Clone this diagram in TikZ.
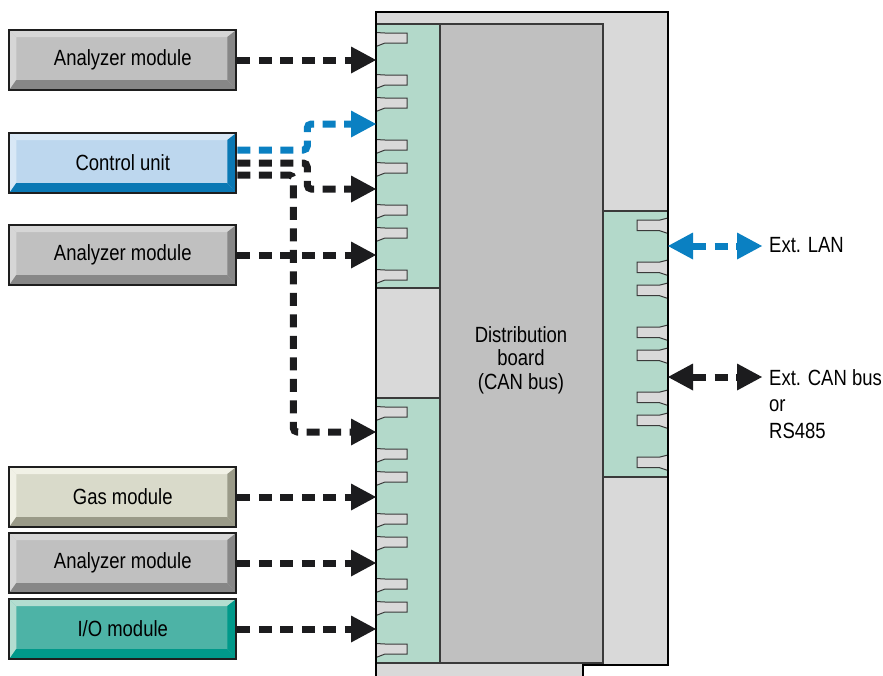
\documentclass[tikz,border=0pt]{standalone}
\usepackage{fontspec}
\setmainfont{Liberation Sans}[FakeStretch=0.84]
\usetikzlibrary{arrows.meta}

% board colours
\definecolor{boardgray}{HTML}{D9D9D9}
\definecolor{innergray}{HTML}{C0C0C0}
\definecolor{mint}{HTML}{B3D9CA}
\definecolor{edgegray}{HTML}{3A3A3A}
\definecolor{lanblue}{HTML}{0A80C2}
\definecolor{boxedge}{HTML}{1E1E1E}
\definecolor{tipblack}{HTML}{1C1C1E}
% module colours: face, light bevel, dark bevel
\definecolor{anface}{HTML}{C0C0C0}
\definecolor{anlight}{HTML}{D6D6D6}
\definecolor{andark}{HTML}{878787}
\definecolor{cuface}{HTML}{BDD7EE}
\definecolor{culight}{HTML}{D8E8F6}
\definecolor{cudark}{HTML}{0A78B4}
\definecolor{gasface}{HTML}{D9DACA}
\definecolor{gaslight}{HTML}{F1F1E6}
\definecolor{gasdark}{HTML}{9A9A88}
\definecolor{ioface}{HTML}{4DB3A6}
\definecolor{iolight}{HTML}{B3DDD0}
\definecolor{iodark}{HTML}{00998A}

\newcommand{\labelfont}{\fontsize{22}{23.5}\selectfont}

\tikzset{
  bevelbox/.style n args={3}{
    draw=boxedge, line width=2pt, fill=#1,
    minimum width=227pt, minimum height=60pt, inner sep=0pt,
    font=\labelfont, text=black,
    path picture={
      \coordinate (ppnw) at (path picture bounding box.north west);
      \coordinate (ppne) at (path picture bounding box.north east);
      \coordinate (ppsw) at (path picture bounding box.south west);
      \coordinate (ppse) at (path picture bounding box.south east);
      \coordinate (inw) at ([xshift=7pt,yshift=-7pt]ppnw);
      \coordinate (ine) at ([xshift=-9pt,yshift=-7pt]ppne);
      \coordinate (isw) at ([xshift=7pt,yshift=10pt]ppsw);
      \coordinate (ise) at ([xshift=-9pt,yshift=10pt]ppse);
      \fill[#2] (ppnw) -- (ppne) -- (ine) -- (inw) -- cycle;
      \fill[#2] (ppnw) -- (inw) -- (isw) -- (ppsw) -- cycle;
      \fill[#3] (ppsw) -- (isw) -- (ise) -- (ppse) -- cycle;
      \fill[#3] (ppne) -- (ppse) -- (ise) -- (ine) -- cycle;
    }},
  bigtip/.tip={Triangle[length=25pt,width=27pt,line width=0pt]},
  link/.style={line width=7pt, dash pattern=on 13pt off 8.5pt,
    rounded corners=4pt, -bigtip},
  twolink/.style={line width=7pt, dash pattern=on 13pt off 8.5pt,
    bigtip-bigtip},
  tooth/.style={fill=boardgray, draw=edgegray, line width=1pt},
  strip/.style={fill=mint, draw=edgegray, line width=1.2pt},
}

\begin{document}
\begin{tikzpicture}[x=1pt, y=-1pt]
\useasboundingbox (0,0) rectangle (883,675);

% distribution board housing
\fill[boardgray] (376,680) -- (376,12) -- (668,12) -- (668,665)
  -- (583,665) -- (583,680) -- cycle;
\draw[strip] (376,24) rectangle (440,288);
\draw[strip] (376,398) rectangle (440,663);
\draw[strip] (603,211) rectangle (668,477);
\draw[fill=innergray, draw=edgegray, line width=1.2pt] (440,24) rectangle (603,663);

% connector teeth
\foreach \base in {38,412}{
  \foreach \d in {0,42,65,107,130,172,195,237}{
    \draw[tooth] (376,\base+\d-5.5) -- (385,\base+\d-5) -- (407,\base+\d-5)
      -- (407,\base+\d+5) -- (385,\base+\d+5) -- (376,\base+\d+8.5) -- cycle;
  }
}
\foreach \d in {0,42,65,107,130,172,195,237}{
  \draw[tooth] (668,225+\d-7) -- (660,225+\d-5) -- (637,225+\d-5)
    -- (637,225+\d+5.5) -- (659,225+\d+5.5) -- (668,225+\d+8.5) -- cycle;
}

\draw[black, line width=2pt] (376,680) -- (376,12) -- (668,12) -- (668,665)
  -- (583,665) -- (583,680);

\node[font=\labelfont, align=center] (board) at (521,360)
  {Distribution\\board\\(CAN bus)};

% ports on the board
\coordinate (pA) at (376,60);
\coordinate (pB) at (376,124);
\coordinate (pC) at (376,189);
\coordinate (pE) at (376,255);
\coordinate (pD) at (376,432);
\coordinate (pF) at (376,497);
\coordinate (pG) at (376,563);
\coordinate (pH) at (376,629);
\coordinate (lanL) at (668,246);
\coordinate (lanR) at (762,246);
\coordinate (canL) at (668,377);
\coordinate (canR) at (762,377);

% modules
\node[bevelbox={anface}{anlight}{andark}] (an1) at (122.75,60) {Analyzer module};
\node[bevelbox={cuface}{culight}{cudark}] (cu) at (122.75,163) {Control unit};
\node[bevelbox={anface}{anlight}{andark}] (an2) at (122.75,255) {Analyzer module};
\node[bevelbox={gasface}{gaslight}{gasdark}] (gas) at (122.75,497) {Gas module};
\node[bevelbox={anface}{anlight}{andark}] (an3) at (122.75,563) {Analyzer module};
\node[bevelbox={ioface}{iolight}{iodark}] (io) at (122.75,629) {I/O module};

% links to the board
\begin{scope}[tipblack]
\draw[link] (an1.east) -- (pA);
\draw[link] ([yshift=-12pt]cu.east) -- ++(56,0) |- (pD);
\draw[link] (cu.east) -- ++(70,0) |- (pC);
\draw[link] (an2.east) -- (pE);
\draw[link] (gas.east) -- (pF);
\draw[link] (an3.east) -- (pG);
\draw[link] (io.east) -- (pH);
\draw[twolink] (canL) -- (canR);
\end{scope}
\draw[link, lanblue] ([yshift=13pt]cu.east) -- ++(70,0) |- (pB);
\draw[twolink, lanblue] (lanL) -- (lanR);

% external link labels
\node[font=\labelfont, anchor=west, inner sep=0pt] (lan) at (769,245) {Ext. LAN};
\node[font=\labelfont, anchor=north west, align=left, inner sep=0pt]
  (can) at (769,369) {Ext. CAN bus\\[3pt]or\\[3pt]RS485};
\end{tikzpicture}
\end{document}
